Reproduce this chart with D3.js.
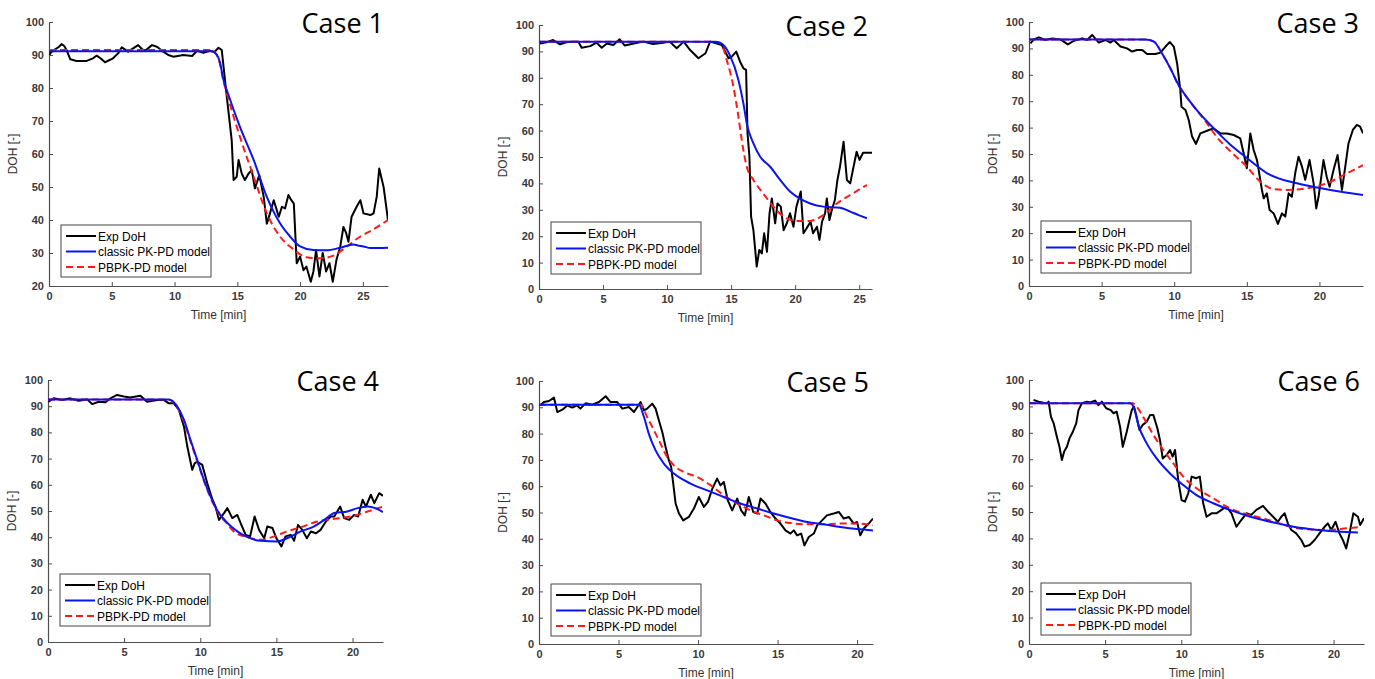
<!doctype html>
<html>
<head>
<meta charset="utf-8">
<title>DoH cases</title>
<script src="https://cdn.jsdelivr.net/npm/d3@7"></script>
<style>
  body { margin: 0; background: #fff; }
  svg { display: block; font-family: "Liberation Sans", Arial, sans-serif; }
</style>
</head>
<body>
<svg id="chart"></svg>
<script>
// ---- data: [time (min), DoH] ----
const case1Exp = [[0.05,90],[0.1,90.5],[0.4,91.5],[0.8,92.5],[1.0,93.3],[1.2,92.8],[1.4,91.5],[1.7,88.7],[2.2,88.2],[3.0,88.2],[3.5,89],[3.8,89.8],[4.1,89],[4.46,87.8],[5.1,89],[5.5,90.5],[5.8,92.3],[6.3,91],[6.7,92],[7.1,93],[7.4,91.8],[7.65,91.3],[8.2,93],[8.6,92.5],[9.1,91],[9.5,90],[9.9,89.5],[10.7,90],[11.4,89.7],[11.8,91.3],[12.3,90.7],[12.8,91.3],[13.2,91],[13.5,92.2],[13.76,91.5],[14.16,77.4],[14.55,64.2],[14.7,52.1],[14.95,53.1],[15.1,58.2],[15.35,54.1],[15.6,52.1],[15.9,54.1],[16.15,55.1],[16.4,49.6],[16.75,53.6],[17.1,47],[17.35,38.9],[17.6,42],[17.9,46],[18.3,41],[18.55,44],[18.8,43.5],[19.07,47.6],[19.3,46],[19.5,45],[19.73,26.9],[20,28.9],[20.27,24.8],[20.5,25.9],[20.85,21.3],[21.06,24.4],[21.27,30.9],[21.54,22.9],[21.8,30],[22.07,24.4],[22.34,26.9],[22.6,21.3],[22.9,28],[23.2,32],[23.45,37.9],[23.67,36],[23.85,33.4],[24.1,41],[24.5,44],[24.8,46],[25.05,42],[25.6,41.5],[25.85,42],[26.1,47],[26.3,55.6],[26.65,50],[27,40]];
const case1Classic = [[0,91.1],[12.9,91.1],[13.3,90.4],[13.6,88],[13.9,82.4],[14.16,79.4],[15.2,68.3],[16.3,58.2],[17.35,47],[18.4,39],[19.2,35],[20,32],[21.06,30.9],[22.1,30.8],[23.2,31.6],[24.25,32.6],[24.6,32.3],[25.05,32],[25.6,31.5],[27,31.6]];
const case1Pbpk = [[0,91.5],[12.9,91.5],[13.3,90.3],[13.6,87.5],[13.9,82],[14.16,78.4],[15.2,65.3],[16.3,53.1],[17.35,42],[18.4,35],[19.5,31],[20.5,28.7],[21.6,28.4],[22.65,29.2],[23.7,31.9],[24.8,35],[25.85,37.2],[27,40]];

const case2Exp = [[0.08,93],[0.6,93.5],[1.1,94.3],[1.64,92.7],[2.0,93.3],[2.4,93.7],[3.07,93.7],[3.33,91.4],[4,92],[4.5,93.3],[4.9,91.4],[5.3,93],[5.8,92.4],[6.3,94.6],[6.7,92.2],[7.4,93],[8.15,93.7],[8.9,92.8],[9.7,93.3],[10.2,93.7],[10.75,91.2],[11.3,93.7],[11.8,90.5],[12.45,87.4],[13,89.3],[13.36,93.7],[13.9,93],[14.27,92.4],[14.8,87.4],[15.05,88],[15.4,89.9],[15.7,86.1],[15.96,83.6],[16.17,83],[16.28,59],[16.43,50.1],[16.56,27.4],[16.74,22.3],[17.0,8.5],[17.2,14.8],[17.4,13.5],[17.58,21.1],[17.8,14.1],[18.0,28.7],[18.18,34.3],[18.44,24.9],[18.62,32.4],[18.88,31.2],[19.1,22.3],[19.35,24.9],[19.6,28.7],[19.87,23.6],[20.1,31.2],[20.44,36.9],[20.65,21.1],[20.9,23],[21.2,25.5],[21.4,21.1],[21.7,23.6],[21.9,18.6],[22.1,25.5],[22.34,28.7],[22.47,34.3],[22.68,26.1],[22.86,29.9],[23.1,33.7],[23.3,41.3],[23.5,46.3],[23.78,55.8],[24.04,41.3],[24.3,40],[24.56,46.3],[24.8,52],[25.03,48.9],[25.3,51.6],[26,51.6]];
const case2Classic = [[0,93.7],[13.6,93.7],[14.14,93.3],[14.9,88.6],[15.57,79.2],[15.96,70.3],[16.25,62],[16.74,55.2],[17.27,50.1],[18.05,46.3],[18.83,41.3],[19.6,36.9],[20.4,34.1],[21.17,32.4],[22.2,31.2],[23.5,30.8],[24.3,29.3],[24.95,28],[25.6,26.8]];
const case2Pbpk = [[0,93.7],[13.8,93.7],[14.2,93],[14.66,86.7],[15.18,76.6],[15.57,65.3],[15.83,56.4],[16.22,46.3],[16.74,41.3],[17.5,36.2],[18.3,31.2],[19.1,27.4],[20.1,25.8],[21.17,25.8],[22.2,28],[23.25,32.4],[24.3,35.6],[25.6,39.4]];

const case3Exp = [[0.1,91.9],[0.33,93.4],[0.68,94.2],[1.13,93.2],[1.6,93.8],[2.17,93.4],[2.67,91.5],[3.1,92.9],[3.66,93.8],[4,93.2],[4.35,95.1],[4.8,92.2],[5.26,93.2],[5.6,92.2],[5.84,93.2],[6.3,90.7],[6.75,90],[7.1,88.8],[7.44,89.4],[7.8,89.4],[8.13,87.9],[8.7,87.9],[9.05,88.4],[9.4,90.7],[9.7,92.4],[9.97,90.7],[10.2,84.3],[10.42,74.2],[10.5,67.9],[10.77,66.7],[11,62.9],[11.23,56.6],[11.5,53.8],[11.8,57.8],[12.26,58.8],[12.7,59.7],[13.17,57.8],[13.63,57.8],[14.1,57.2],[14.55,55.9],[14.78,50.3],[15.0,44.6],[15.24,57.8],[15.47,51.5],[15.7,47.7],[16.04,36.4],[16.16,33.2],[16.38,35.1],[16.57,28.8],[16.85,27.5],[17.14,23.5],[17.42,27.5],[17.65,26.3],[17.88,35.1],[18.1,33.8],[18.33,42.7],[18.56,49],[18.8,45.2],[19.02,40.2],[19.32,47.7],[19.6,38.9],[19.78,29.4],[19.94,33.8],[20.28,47.7],[20.5,41.4],[20.7,37.6],[20.97,43.9],[21.25,49.6],[21.55,36.4],[21.78,45.2],[22,54],[22.3,59.1],[22.58,61],[22.8,60.4],[23,57.8]];
const case3Classic = [[0,93.4],[8.0,93.4],[8.6,92.6],[9.16,88.1],[9.74,82.4],[10.3,76.1],[11.0,70.5],[11.57,66.5],[12.72,59.7],[13.87,53.5],[15,48.5],[16.4,42.7],[18.45,38.9],[20.75,36.4],[23,34.5]];
const case3Pbpk = [[0,93.4],[8.0,93.4],[8.6,92.6],[9.16,88.1],[9.74,82.4],[10.3,76],[10.9,71.2],[12.26,61.6],[13.0,56],[13.87,51],[15,45.2],[15.93,39.5],[16.85,36.7],[17.76,36.4],[19.14,37],[20.5,38.9],[21.9,42.7],[23,45.8]];

const case4Exp = [[0.04,91.7],[0.37,93],[0.92,92.4],[1.47,93],[2.0,92.1],[2.57,92.6],[2.9,90.8],[3.33,91.7],[3.77,91.5],[4.1,93],[4.54,94.3],[4.98,93.7],[5.4,93.3],[6.07,94],[6.5,91.7],[7.17,92.4],[7.6,92.4],[7.94,91.1],[8.27,91.1],[8.6,88.6],[8.93,82.2],[9.15,74.6],[9.47,65.7],[9.63,68.2],[9.8,68.9],[10.13,67.6],[10.46,60.6],[10.8,54.3],[11.0,51.7],[11.23,46.6],[11.56,49.2],[11.78,51.1],[12.1,47.3],[12.43,48.5],[12.65,45.4],[12.98,40.9],[13.27,40.3],[13.57,47.9],[13.86,42.8],[14.2,39.6],[14.4,44.1],[14.74,43.5],[15.0,39.6],[15.33,36.5],[15.6,40.3],[15.94,40.9],[16.16,38.6],[16.42,44.7],[16.7,42.8],[17.0,39.6],[17.26,42.2],[17.6,41.5],[17.9,42.8],[18.25,46],[18.57,47.9],[18.8,47.9],[19.19,51.7],[19.45,47.3],[19.78,46.6],[20.1,48.5],[20.37,47.9],[20.66,54.3],[20.88,51.7],[21.2,56.2],[21.43,53],[21.75,56.8],[22,55.8]];
const case4Classic = [[0,92.6],[7.9,92.6],[8.05,92.4],[8.5,89.8],[8.93,84.8],[9.36,77.1],[9.8,69.5],[10.24,61.9],[10.68,55.5],[11.1,50.4],[11.78,45.4],[12.43,42.2],[13.1,40],[13.97,38.6],[15.07,38.4],[15.7,39.6],[16.6,42.2],[17.48,44.1],[18.14,46.6],[18.8,49.2],[19.67,49.8],[20.33,51.1],[20.99,51.7],[21.5,51.1],[22,49.6]];
const case4Pbpk = [[0,92.6],[7.9,92.6],[8.05,92.3],[8.5,89.5],[8.93,84],[9.36,76.5],[9.8,69],[10.24,61.5],[10.68,55],[11.1,50],[11.78,45],[12.2,42.2],[13.1,40],[13.97,39],[14.85,40.3],[15.7,42.2],[16.6,43.8],[17.7,46],[18.8,47],[19.9,47.9],[20.99,49.8],[22,51.7]];

const case5Exp = [[0.06,90.7],[0.31,92],[0.63,92.4],[0.94,93.7],[1.15,88.2],[1.47,89.1],[1.78,90.7],[2.1,89.9],[2.4,90.7],[2.6,89.5],[2.93,91.5],[3.35,91],[3.77,92],[4.19,94.2],[4.5,92],[4.92,92],[5.24,89.5],[5.65,90.1],[5.97,88.2],[6.18,90.1],[6.39,92],[6.6,88.8],[6.8,89.5],[7.12,91.4],[7.33,89.5],[7.54,85],[7.75,80.6],[7.96,74.9],[8.17,69.8],[8.31,67.3],[8.44,61],[8.59,53.4],[8.8,49.6],[9.07,47],[9.42,48.3],[9.74,51.5],[10.05,55.9],[10.37,52.1],[10.62,54],[10.9,59.1],[11.2,62.9],[11.41,60.3],[11.62,61.6],[11.87,54.6],[12.15,50.8],[12.46,55.3],[12.71,50.8],[12.94,48.9],[13.19,55.9],[13.47,50.2],[13.72,49.6],[13.93,55.3],[14.24,53.4],[14.55,50.2],[14.87,47.7],[15.18,45.8],[15.5,43.2],[15.81,42],[16.02,43.2],[16.23,41.3],[16.48,42],[16.69,37.5],[16.96,40.7],[17.28,42],[17.49,45.1],[17.8,47],[18.1,48.9],[18.53,49.6],[18.85,50.2],[19.16,47.7],[19.48,48.3],[19.79,45.8],[20,46.4],[20.2,41.3],[20.42,43.9],[20.73,45.8],[21,47.7]];
const case5Classic = [[0,91],[6.28,91],[6.6,86.3],[6.9,80],[7.33,73.6],[7.85,68.6],[8.48,64.8],[9.53,61],[10.58,58.4],[11.62,55.9],[12.67,53.4],[13.72,51.5],[14.76,49.6],[15.81,47.9],[16.86,46.4],[17.9,45.5],[18.95,44.5],[20,43.7],[21,43.2]];
const case5Pbpk = [[0,91],[6.4,91],[6.8,86.3],[7.23,81.2],[7.64,76.2],[8.06,71.1],[8.48,67.9],[9.1,65.4],[9.95,63.5],[10.8,60.3],[11.62,56.5],[12.46,53.4],[13.3,50.8],[14.14,48.9],[14.97,47],[15.81,46],[16.86,45.5],[17.9,45.5],[18.95,45.8],[20,45.8],[21,45.1]];

const case6Exp = [[0.3,92.4],[0.63,91.8],[0.96,91.4],[1.18,91.2],[1.29,91.8],[1.44,86.1],[1.62,83.6],[1.83,78.5],[2.0,74.7],[2.16,69.7],[2.31,72.9],[2.49,74.7],[2.66,77.9],[2.88,80.4],[3.1,83.6],[3.25,88.6],[3.47,91.2],[3.8,91.8],[4.02,91.5],[4.34,92.2],[4.56,90.5],[4.78,91.8],[5.07,89.3],[5.37,88.6],[5.55,87.4],[5.76,88],[5.98,82.3],[6.16,74.7],[6.42,80.4],[6.59,84.8],[6.75,88.6],[6.9,89.9],[7.07,86.1],[7.25,81.1],[7.47,83],[7.73,84.2],[7.95,86.7],[8.17,86.7],[8.43,81.7],[8.6,77.3],[8.78,70.3],[9.04,71.6],[9.26,73.5],[9.43,71],[9.59,73.5],[9.8,62.1],[10.02,54.5],[10.24,53.9],[10.46,57.1],[10.68,63.4],[10.96,62.8],[11.22,63.4],[11.44,53.3],[11.66,48.2],[11.99,49.5],[12.31,49.5],[12.64,50.8],[12.97,52],[13.3,49.5],[13.62,44.4],[13.95,47],[14.28,49.5],[14.6,48.9],[14.93,50.8],[15.37,52.3],[15.7,50.1],[16.03,48.2],[16.35,46.3],[16.57,48.2],[16.79,49.5],[17.0,45.7],[17.23,43.2],[17.55,41.9],[17.88,39.4],[18.1,36.9],[18.43,37.5],[18.76,39.4],[19.08,41.9],[19.41,44.4],[19.63,45.7],[19.85,43.2],[20.13,46.3],[20.39,41.9],[20.61,39.4],[20.83,36.2],[21.05,41.9],[21.3,49.5],[21.6,48.2],[21.75,45.1],[22,47.6]];
const case6Classic = [[0,91.2],[6.64,91.2],[6.9,89.3],[7.18,83],[7.73,76],[8.38,70.3],[9.26,64.6],[10.13,60.2],[11,56.4],[12.1,53.3],[13.19,50.8],[14.28,48.7],[15.37,47],[16.46,45.5],[17.55,44.2],[18.65,43.4],[19.74,42.8],[20.83,42.4],[21.6,42.2]];
const case6Pbpk = [[0,91.2],[6.8,91.2],[7.3,88],[7.73,83.6],[8.17,79.2],[8.82,73.5],[9.48,68.4],[10.13,63.4],[11,59],[12.1,55.2],[13.19,51.4],[14.28,49.2],[15.37,47.6],[16.46,45.7],[17.55,43.8],[18.65,43.4],[19.74,43.2],[20.83,43.8],[21.6,44.2]];

const caseTitles = ["Case 1", "Case 2", "Case 3", "Case 4", "Case 5", "Case 6"];
const xMaxes = [27, 26, 23, 22, 21, 22];
const yMins = [20, 0, 0, 0, 0, 0];
const seriesNames = ["Exp DoH", "classic PK-PD model", "PBPK-PD model"];

const expSeries = [case1Exp, case2Exp, case3Exp, case4Exp, case5Exp, case6Exp];
const classicSeries = [case1Classic, case2Classic, case3Classic, case4Classic, case5Classic, case6Classic];
const pbpkSeries = [case1Pbpk, case2Pbpk, case3Pbpk, case4Pbpk, case5Pbpk, case6Pbpk];

// ---- layout (pixel boxes of each axes) ----
const boxes = [
    {left: 49,   right: 388,  top: 22,  bottom: 286, legendY: 225},
    {left: 539,  right: 872,  top: 25,  bottom: 289, legendY: 222},
    {left: 1029, right: 1363, top: 22,  bottom: 286, legendY: 221},
    {left: 48,   right: 383,  top: 380, bottom: 642, legendY: 574},
    {left: 539,  right: 873,  top: 381, bottom: 644, legendY: 584},
    {left: 1029, right: 1364, top: 380, bottom: 644, legendY: 583}
];

const W = 1375, H = 679;
const axisColor = "#4d4d4d";
const styles = [
    {color: "#000000", dash: null},
    {color: "#0a14f0", dash: null},
    {color: "#ff1a1a", dash: "7,4"}
];

const svg = d3.select("#chart").attr("width", W).attr("height", H);
svg.append("rect").attr("width", W).attr("height", H).attr("fill", "#fff");

boxes.forEach((b, i) => drawPanel(i, b));

function drawPanel(i, b) {
    const x = d3.scaleLinear().domain([0, xMaxes[i]]).range([b.left, b.right]);
    const y = d3.scaleLinear().domain([yMins[i], 100]).range([b.bottom, b.top]);
    const g = svg.append("g");

    // clip so lines stay inside the axes
    const clipId = "clip" + i;
    g.append("clipPath").attr("id", clipId)
        .append("rect")
        .attr("x", b.left).attr("y", b.top - 2)
        .attr("width", b.right - b.left).attr("height", b.bottom - b.top + 4);

    const xAxis = g.append("g")
        .attr("transform", `translate(0,${b.bottom})`)
        .call(d3.axisBottom(x).tickValues(d3.range(0, xMaxes[i] + 0.01, 5))
            .tickSizeInner(-4).tickSizeOuter(0).tickPadding(6));
    const yAxis = g.append("g")
        .attr("transform", `translate(${b.left},0)`)
        .call(d3.axisLeft(y).tickValues(d3.range(yMins[i], 100.01, 10))
            .tickSizeInner(-4).tickSizeOuter(0).tickPadding(5));

    [xAxis, yAxis].forEach(a => {
        a.select(".domain").attr("stroke", axisColor).attr("stroke-width", 1.2);
        a.selectAll(".tick line").attr("stroke", axisColor);
        a.selectAll(".tick text").attr("fill", "#3a3a3a").attr("font-size", 11)
            .attr("font-family", "Liberation Sans, Arial, sans-serif").attr("font-weight", "bold");
    });

    g.append("text")
        .attr("x", (b.left + b.right) / 2).attr("y", b.bottom + 33)
        .attr("text-anchor", "middle").attr("font-size", 12).attr("fill", "#333")
        .text("Time [min]");
    g.append("text")
        .attr("transform", `translate(${b.left - 32},${(b.top + b.bottom) / 2}) rotate(-90)`)
        .attr("text-anchor", "middle").attr("font-size", 12).attr("fill", "#333")
        .text("DOH [-]");

    const sharp = d3.line().x(d => x(d[0])).y(d => y(d[1]));
    const smooth = d3.line().x(d => x(d[0])).y(d => y(d[1])).curve(d3.curveMonotoneX);

    const lines = g.append("g").attr("clip-path", `url(#${clipId})`).attr("fill", "none")
        .attr("stroke-linejoin", "round").attr("stroke-width", 2);
    lines.append("path").attr("d", sharp(expSeries[i])).attr("stroke", styles[0].color);
    lines.append("path").attr("d", smooth(pbpkSeries[i])).attr("stroke", styles[2].color)
        .attr("stroke-dasharray", styles[2].dash);
    lines.append("path").attr("d", smooth(classicSeries[i])).attr("stroke", styles[1].color);

    // title
    g.append("text")
        .attr("x", b.right - 4).attr("y", b.top + 11)
        .attr("text-anchor", "end")
        .attr("font-family", "Open Sans, sans-serif").attr("font-size", 27)
        .attr("fill", "#000")
        .text(caseTitles[i]);

    // legend
    const lx = b.left + 12, ly = b.legendY;
    const leg = g.append("g").attr("transform", `translate(${lx},${ly})`);
    leg.append("rect").attr("width", 150).attr("height", 52)
        .attr("fill", "#fff").attr("stroke", "#444").attr("stroke-width", 1);
    seriesNames.forEach((name, k) => {
        const ry = 11 + k * 15.5;
        leg.append("line").attr("x1", 5).attr("x2", 35).attr("y1", ry).attr("y2", ry)
            .attr("stroke", styles[k].color).attr("stroke-width", 2)
            .attr("stroke-dasharray", styles[k].dash);
        leg.append("text").attr("x", 37).attr("y", ry + 4.5)
            .attr("font-size", 12).attr("fill", "#000").text(name);
    });
}
</script>
</body>
</html>
